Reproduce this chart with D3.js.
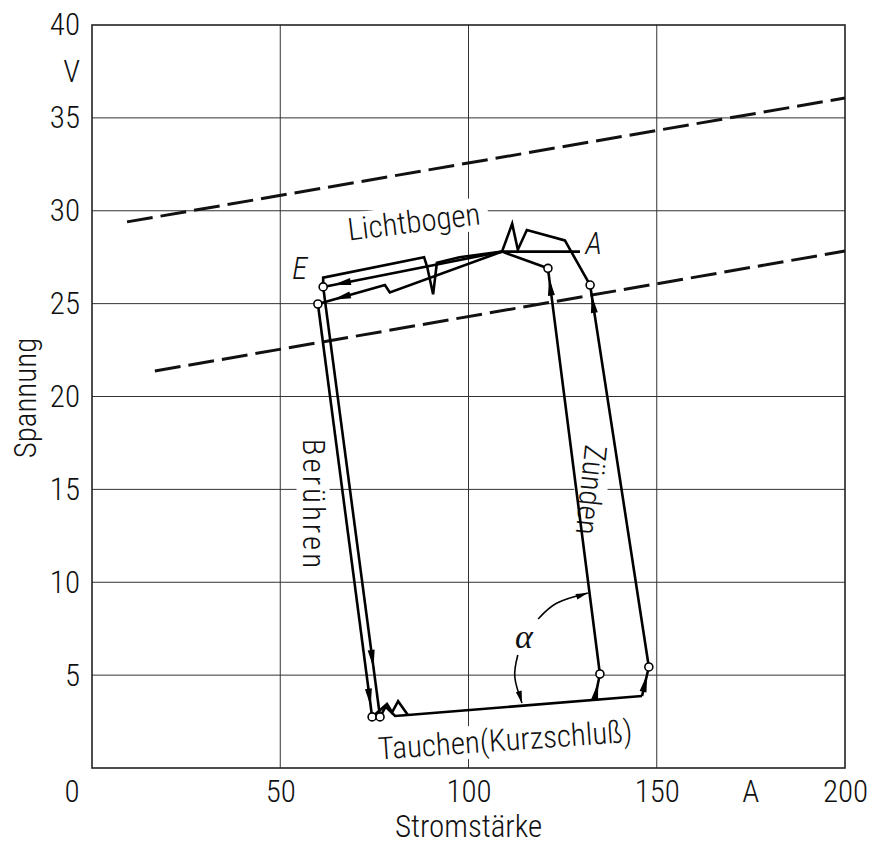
<!DOCTYPE html>
<html><head><meta charset="utf-8">
<script src="https://cdn.jsdelivr.net/npm/d3@7"></script>
<style>
body{margin:0;background:#fff}
svg{display:block}
</style>
</head><body>
<svg id="c" width="873" height="843"></svg>
<script>
// ---- data (x: Stromstärke in A, y: Spannung in V) ----
const xTickValues = [50, 100, 150, 200];
const yTickValues = [5, 10, 15, 20, 25, 30, 35, 40];
const xGridValues = [50, 100, 150];
const yGridValues = [5, 10, 15, 20, 25, 30, 35];

const dashUpper = [[9.3, 29.4], [200, 36.07]];
const dashLower = [[16.7, 21.37], [200, 27.83]];

const pathTopBox = [[61.4,25.9],[61.4,26.4],[88.2,27.5],[89.0,27.0],[90.6,25.5],[91.6,27.2],[97.6,27.5],[108.9,27.8]];
const pathUpperArc = [[108.9,27.8],[61.4,25.9]];
const pathLowerArc = [[108.9,27.8],[79.1,25.6],[77.8,26.0],[60.0,24.98]];
const pathA = [[108.9,27.8],[129.6,27.8]];
const pathPeak = [[108.9,27.8],[111.6,29.3],[113.1,27.9],[115.5,28.96],[125.6,28.4],[132.3,26.0]];
const pathInnerLink = [[108.9,27.8],[121.1,26.9]];
const pathInnerRise = [[133.6,3.77],[134.9,5.06],[121.1,26.9]];
const pathOuterRise = [[146.1,3.88],[147.9,5.44],[132.3,26.0]];
const pathBottom = [[83.9,2.85],[146.1,3.88]];
const pathTouchLeft = [[60.0,24.98],[74.4,2.75]];
const pathTouchRight = [[61.4,25.9],[76.5,2.75]];
const pathZigA = [[74.4,2.75],[78.35,3.45],[79.7,3.0],[81.3,3.6],[83.9,2.85]];
const pathZigB = [[76.5,2.75],[78.0,3.3],[80.5,2.8],[83.9,2.85]];
const loopPaths = [pathTopBox, pathUpperArc, pathLowerArc, pathA, pathPeak, pathInnerLink,
  pathInnerRise, pathOuterRise, pathBottom, pathTouchLeft, pathTouchRight, pathZigA, pathZigB];

const markerPoints = [[61.4,25.9],[60.0,24.98],[121.1,26.9],[132.3,26.0],[74.4,2.75],[76.5,2.75],[134.9,5.06],[147.9,5.44]];

// arrows: segment start, segment end, fraction along segment for the tip
const arrowSpecs = [
  [[108.9,27.8],[61.4,25.9],0.945],
  [[77.8,26.0],[60.0,24.98],0.775],
  [[60.0,24.98],[74.4,2.75],0.975],
  [[61.4,25.9],[76.5,2.75],0.886],
  [[133.6,3.77],[134.9,5.06],0.65],
  [[146.1,3.88],[147.9,5.44],0.75],
  [[134.9,5.06],[121.1,26.9],0.977],
  [[147.9,5.44],[132.3,26.0],0.974]
];

const alphaArc1 = [[118.5,8.02],[123.5,8.88],[131.7,9.42]];
const alphaArc2 = [[113.1,6.08],[112.3,4.9],[114.2,3.5]];

const annotations = [
  {text:"Lichtbogen", x:85.5, y:29.4, rot:-7},
  {text:"E", x:55.2, y:26.9, rot:0, italic:true},
  {text:"A", x:133.3, y:28.26, rot:0, italic:true},
  {text:"Berühren", x:58.7, y:14.16, rot:90, spacing:3},
  {text:"Zünden", x:132.5, y:14.97, rot:96},
  {text:"Tauchen(Kurzschluß)", x:109.7, y:1.5, rot:-4},
  {text:"α", x:114.7, y:7.1, rot:0, italic:true}
];

// ---- font choice: prefer a light condensed face when present ----
function hasFont(name) {
  const c = document.createElement("canvas").getContext("2d");
  const s = "Stromstärke 0123456789";
  c.font = "40px monospace"; const w0 = c.measureText(s).width;
  c.font = `40px "${name}", monospace`; const w1 = c.measureText(s).width;
  return Math.abs(w0 - w1) > 0.5;
}
let FONT = '"DejaVu Sans Condensed", sans-serif', FS = 28, FW = null;
if (hasFont("Roboto Condensed")) { FONT = '"Roboto Condensed", sans-serif'; FS = 31; FW = 300; }
else if (hasFont("Liberation Sans Narrow")) { FONT = '"Liberation Sans Narrow", sans-serif'; FS = 30; }

// ---- drawing ----
const svg = d3.select("#c").style("font-family", FONT).style("font-weight", FW);
const x = d3.scaleLinear().domain([0, 200]).range([92, 845]);
const y = d3.scaleLinear().domain([0, 40]).range([768, 25]);

// grid
svg.append("g").selectAll("line").data(xGridValues).join("line")
  .attr("x1", d => x(d)).attr("x2", d => x(d)).attr("y1", y(0)).attr("y2", y(40))
  .attr("stroke", "#333").attr("stroke-width", 1);
svg.append("g").selectAll("line").data(yGridValues).join("line")
  .attr("x1", x(0)).attr("x2", x(200)).attr("y1", d => y(d)).attr("y2", d => y(d))
  .attr("stroke", "#333").attr("stroke-width", 1);
svg.append("rect").attr("x", x(0)).attr("y", y(40)).attr("width", x(200) - x(0)).attr("height", y(0) - y(40))
  .attr("fill", "none").attr("stroke", "#222").attr("stroke-width", 1.6);

// axes labels
const yAxis = svg.append("g").attr("transform", `translate(${x(0)},0)`)
  .call(d3.axisLeft(y).tickValues(yTickValues).tickSize(0).tickPadding(12));
yAxis.select(".domain").remove();
yAxis.attr("font-family", null).attr("font-size", null);
yAxis.selectAll("text").attr("font-size", FS).attr("fill", "#111");

const xAxis = svg.append("g").attr("transform", `translate(0,${y(0)})`)
  .call(d3.axisBottom(x).tickValues(xTickValues).tickSize(0).tickPadding(12));
xAxis.select(".domain").remove();
xAxis.attr("font-family", null).attr("font-size", null);
xAxis.selectAll("text").attr("font-size", FS).attr("fill", "#111");

svg.append("text").attr("x", x(0) - 20).attr("y", y(0) + 12).attr("dy", "0.71em")
  .attr("text-anchor", "middle").attr("font-size", FS).attr("fill", "#111").text("0");
svg.append("text").attr("x", x(175)).attr("y", y(0) + 12).attr("dy", "0.71em")
  .attr("text-anchor", "middle").attr("font-size", FS).attr("fill", "#111").text("A");
svg.append("text").attr("x", x(0) - 12).attr("y", y(37.5)).attr("dy", "0.35em")
  .attr("text-anchor", "end").attr("font-size", FS).attr("fill", "#111").text("V");
svg.append("text").attr("x", x(100)).attr("y", y(0) + 58)
  .attr("text-anchor", "middle").attr("dominant-baseline", "central")
  .attr("font-size", FS).attr("fill", "#111").text("Stromstärke");
svg.append("text").attr("transform", `translate(25,398) rotate(-90)`)
  .attr("text-anchor", "middle").attr("dominant-baseline", "central")
  .attr("font-size", FS).attr("fill", "#111").text("Spannung");

// dashed lines
const line = d3.line().x(d => x(d[0])).y(d => y(d[1]));
[dashUpper, dashLower].forEach(d => {
  svg.append("path").attr("d", line(d)).attr("fill", "none").attr("stroke", "#111")
    .attr("stroke-width", 3).attr("stroke-dasharray", "26,8");
});

// annotations (with white background)
const annG = svg.append("g");
annotations.forEach(a => {
  const g = annG.append("g").attr("transform", `translate(${x(a.x)},${y(a.y)}) rotate(${a.rot})`);
  const isAlpha = a.text === "α";
  const t = g.append("text").attr("text-anchor", "middle").attr("dominant-baseline", "central")
    .attr("font-size", isAlpha ? 34 : FS).attr("fill", "#111")
    .attr("font-style", a.italic ? "italic" : null)
    .attr("font-family", isAlpha ? '"Liberation Serif", serif' : null)
    .attr("font-weight", isAlpha ? 400 : null)
    .attr("letter-spacing", a.spacing || null)
    .text(a.text);
  if (["Lichtbogen", "Tauchen(Kurzschluß)", "Berühren", "Zünden"].includes(a.text)) {
    const b = t.node().getBBox();
    g.insert("rect", "text").attr("x", b.x - 8).attr("y", b.y + 2).attr("width", b.width + 16).attr("height", b.height - 4)
      .attr("fill", "#fff");
  }
});

// loop
svg.append("g").selectAll("path").data(loopPaths).join("path")
  .attr("d", line).attr("fill", "none").attr("stroke", "#000")
  .attr("stroke-width", 2.6).attr("stroke-linejoin", "miter");

// alpha arcs
const curve = d3.line().x(d => x(d[0])).y(d => y(d[1])).curve(d3.curveNatural);
[alphaArc1, alphaArc2].forEach(d => {
  svg.append("path").attr("d", curve(d)).attr("fill", "none").attr("stroke", "#000").attr("stroke-width", 1.6);
});

// arrows
function arrowPoly(p1, p2, t, len, w) {
  const a = [x(p1[0]), y(p1[1])], b = [x(p2[0]), y(p2[1])];
  const dx = b[0] - a[0], dy = b[1] - a[1], L = Math.hypot(dx, dy);
  const ux = dx / L, uy = dy / L;
  const tip = [a[0] + dx * t, a[1] + dy * t];
  const base = [tip[0] - ux * len, tip[1] - uy * len];
  return [tip, [base[0] - uy * w / 2, base[1] + ux * w / 2], [base[0] + uy * w / 2, base[1] - ux * w / 2]];
}
arrowSpecs.forEach(s => {
  svg.append("polygon").attr("points", arrowPoly(s[0], s[1], s[2], 18, 7).join(" ")).attr("fill", "#000");
});
[alphaArc1, alphaArc2].forEach(d => {
  svg.append("polygon").attr("points", arrowPoly(d[1], d[2], 1, 12, 6).join(" ")).attr("fill", "#000");
});

// circles
svg.append("g").selectAll("circle").data(markerPoints).join("circle")
  .attr("cx", d => x(d[0])).attr("cy", d => y(d[1])).attr("r", 4)
  .attr("fill", "#fff").attr("stroke", "#000").attr("stroke-width", 1.6);
</script>
</body></html>
